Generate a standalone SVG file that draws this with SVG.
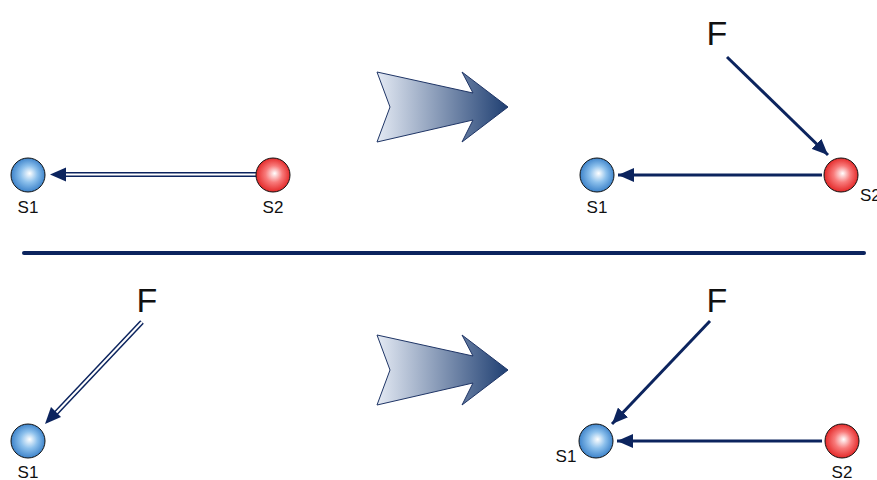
<svg xmlns="http://www.w3.org/2000/svg" width="877" height="480" viewBox="0 0 877 480">
<defs>
<radialGradient id="gBlue" cx="0.5" cy="0.5" r="0.55" fx="0.55" fy="0.45">
<stop offset="0" stop-color="#ffffff"/>
<stop offset="0.45" stop-color="#8cc0ec"/>
<stop offset="1" stop-color="#2f78c4"/>
</radialGradient>
<radialGradient id="gRed" cx="0.5" cy="0.5" r="0.55" fx="0.55" fy="0.45">
<stop offset="0" stop-color="#ffffff"/>
<stop offset="0.45" stop-color="#f87a7a"/>
<stop offset="1" stop-color="#e01a1a"/>
</radialGradient>
<linearGradient id="gArrow" x1="0" y1="0" x2="1" y2="0">
<stop offset="0" stop-color="#e4eaf4"/>
<stop offset="1" stop-color="#1f3f72"/>
</linearGradient>
<marker id="ah" markerWidth="16" markerHeight="14" refX="16" refY="7" orient="auto" markerUnits="userSpaceOnUse">
<path d="M0,0 L16,7 L0,14 Z" fill="#0c245e"/>
</marker>
<path id="bigArrow" d="M377,72 L473,93 L462,72 L508,107 L462,142 L473,120 L377,142 L390,107 Z"/>
</defs>
<style>
.ball{stroke:#111;stroke-width:1}
.lbl{font-family:"Liberation Sans",Arial,sans-serif;font-size:17px;fill:#111;text-anchor:middle}
.big{font-family:"Liberation Sans",Arial,sans-serif;font-size:34px;fill:#111;text-anchor:middle}
.solid{stroke:#0c245e;stroke-width:3;fill:none}
.dblo{stroke:#0c245e;stroke-width:5;fill:none}
.dbli{stroke:#ffffff;stroke-width:2;fill:none}
.barrow{fill:url(#gArrow);stroke:#1f3566;stroke-width:1}
</style>
<g id="connectors">
<line class="dblo" x1="256" y1="174.5" x2="66" y2="174.5"/>
<line class="dbli" x1="256" y1="174.5" x2="66" y2="174.5"/>
<path d="M66,167.5 L50,174.5 L66,181.5 Z" fill="#0c245e"/>
<line class="solid" x1="727" y1="57" x2="828" y2="155" marker-end="url(#ah)"/>
<line class="solid" x1="822" y1="175" x2="618" y2="175" marker-end="url(#ah)"/>
<line class="dblo" x1="142" y1="322" x2="56" y2="413"/>
<line class="dbli" x1="142" y1="322" x2="56" y2="413"/>
<path d="M45,424 L51,407 L61,417 Z" fill="#0c245e"/>
<line class="solid" x1="710" y1="321" x2="612" y2="424" marker-end="url(#ah)"/>
<line class="solid" x1="822" y1="441" x2="617" y2="441" marker-end="url(#ah)"/>
<line x1="24" y1="253" x2="864" y2="253" stroke="#0c245e" stroke-width="4" stroke-linecap="round"/>
</g>
<g id="transform-arrow-top"><use href="#bigArrow" class="barrow"/></g>
<g id="transform-arrow-bottom"><use href="#bigArrow" class="barrow" transform="translate(0,263)"/></g>
<g id="tl-S1"><circle class="ball" cx="28" cy="175" r="17" fill="url(#gBlue)"/><text class="lbl" x="28" y="213">S1</text></g>
<g id="tl-S2"><circle class="ball" cx="273" cy="175" r="17" fill="url(#gRed)"/><text class="lbl" x="273" y="213">S2</text></g>
<g id="tr-F"><text class="big" x="717" y="45">F</text></g>
<g id="tr-S1"><circle class="ball" cx="597" cy="175" r="17" fill="url(#gBlue)"/><text class="lbl" x="597" y="213">S1</text></g>
<g id="tr-S2"><circle class="ball" cx="841" cy="175" r="17" fill="url(#gRed)"/><text class="lbl" x="860" y="201" style="text-anchor:start">S2</text></g>
<g id="bl-F"><text class="big" x="147" y="312">F</text></g>
<g id="bl-S1"><circle class="ball" cx="28" cy="441" r="17" fill="url(#gBlue)"/><text class="lbl" x="28" y="478">S1</text></g>
<g id="br-F"><text class="big" x="717" y="312">F</text></g>
<g id="br-S1"><circle class="ball" cx="596" cy="441" r="17" fill="url(#gBlue)"/><text class="lbl" x="566" y="462">S1</text></g>
<g id="br-S2"><circle class="ball" cx="842" cy="441" r="17" fill="url(#gRed)"/><text class="lbl" x="842" y="478">S2</text></g>
</svg>
